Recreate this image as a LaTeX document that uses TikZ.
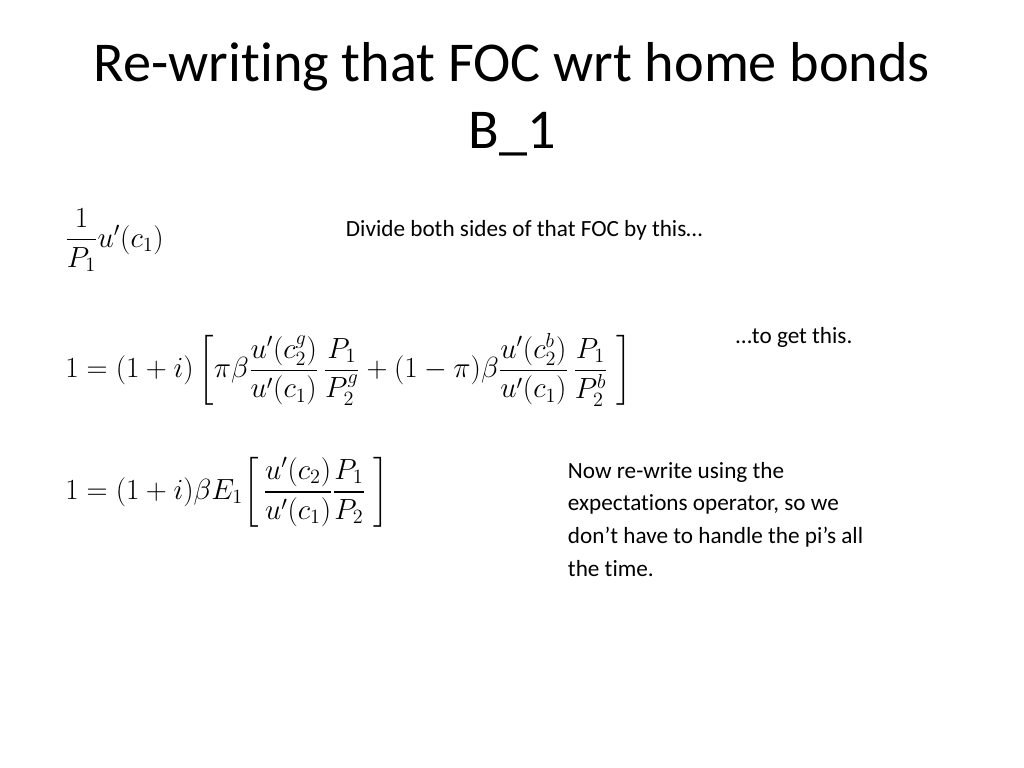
\documentclass[tikz,border=0pt]{standalone}
\usepackage{amsmath}
\usepackage{fontspec}
\setmainfont[Ligatures=NoCommon]{Carlito}
\usepackage{tikz}
\usetikzlibrary{positioning}
\newcommand{\mathsz}{\fontsize{19.5}{23}\selectfont}
\begin{document}
\begin{tikzpicture}[x=0.025cm, y=-0.025cm,
    title/.style={font=\fontsize{40}{48}\selectfont, align=center},
    note/.style={font=\fontsize{16.5}{23.3}\selectfont, anchor=west, align=left},
    eqn/.style={font=\mathsz, anchor=west, inner sep=0pt}
]
\useasboundingbox (0,0) rectangle (1024,768);
\node[title] (heading) at (512,99) {Re-writing that FOC wrt home bonds\\B\_1};
% equations
\node[eqn] (deflator) at (65,240) {$\dfrac{1}{P_1}u'(c_1)$};
\node[eqn] (focfull) at (65,370) {$1=(1+i)\left[\pi\beta\dfrac{u'(c_2^{g})}{u'(c_1)}\,\dfrac{P_1}{P_2^g}+(1-\pi)\beta\dfrac{u'(c_2^{b})}{u'(c_1)}\,\dfrac{P_1}{P_2^b}\;\right]$};
\node[eqn] (focexp) at (65,492) {$1=(1+i)\beta E_1\!\left[\,\dfrac{u'(c_2)}{u'(c_1)}\dfrac{P_1}{P_2}\;\right]$};
% comments
\node[note] (divide) at (341,230) {Divide both sides of that FOC by this\ldots};
\node[note] (toget) at (731,337) {\ldots to get this.};
\node[note, anchor=north west] (rewrite) at (563,457) {Now re-write using the\\expectations operator, so we\\don’t have to handle the pi’s all\\the time.};
\end{tikzpicture}
\end{document}
